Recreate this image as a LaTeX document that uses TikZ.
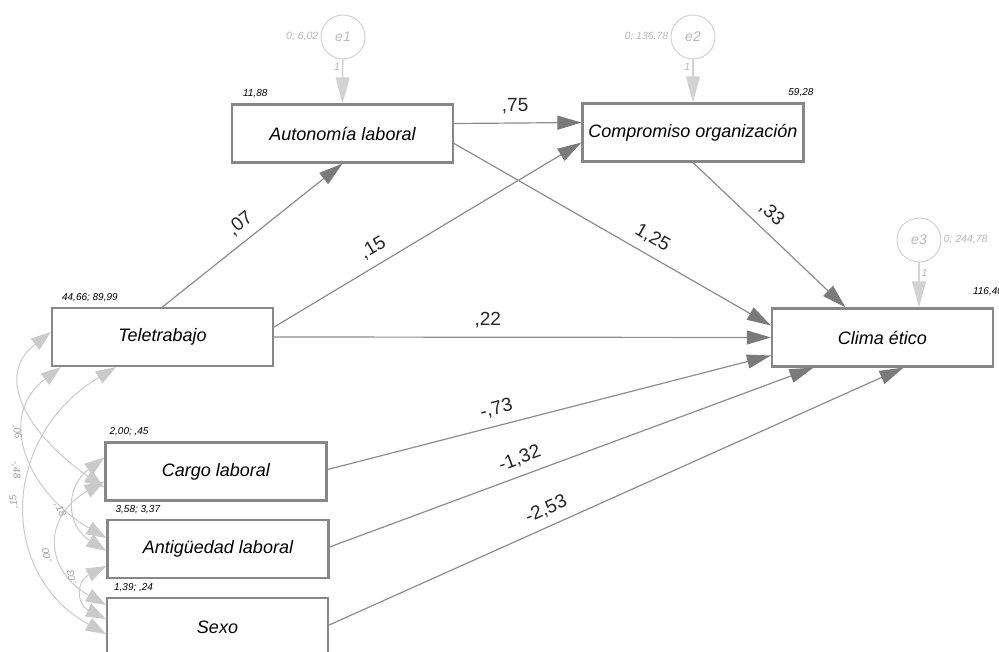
\documentclass[tikz,border=0pt]{standalone}
\usepackage{fontspec}
\setmainfont{Liberation Sans}
\usetikzlibrary{arrows.meta, calc}
\definecolor{boxgray}{HTML}{878787}
\definecolor{linegray}{HTML}{8C8C8C}
\definecolor{headgray}{HTML}{7A7A7A}
\definecolor{errgray}{HTML}{D2D2D2}
\definecolor{errtext}{HTML}{B8B8B8}
\definecolor{covgray}{HTML}{CACACA}
\definecolor{covtext}{HTML}{A0A0A0}

\begin{document}
\begin{tikzpicture}[x=1pt, y=1pt,
	varbox/.style={draw=boxgray, line width=2.2pt, fill=white, minimum width=221pt, minimum height=58pt, inner sep=0pt, font=\fontsize{18}{20}\selectfont\itshape},
	errnode/.style={circle, draw=errgray, line width=1pt, minimum size=44pt, inner sep=0pt, text=errtext, font=\fontsize{14}{16}\selectfont\itshape},
	regarrow/.style={draw=linegray, line width=1.2pt, -{Triangle[length=24pt, width=14pt, color=headgray]}},
	errarrow/.style={draw=errgray, line width=1.4pt, -{Triangle[length=26pt, width=14pt]}},
	covarrow/.style={draw=covgray, line width=1pt, {Triangle[length=20pt, width=14pt]}-{Triangle[length=20pt, width=14pt]}},
	coeflab/.style={sloped, above=5pt, font=\fontsize{19}{21}\selectfont, text=black!85},
	estlab/.style={font=\fontsize{10}{11}\selectfont\itshape, inner sep=1pt},
	errlab/.style={font=\fontsize{10.5}{12}\selectfont\itshape, text=errtext, inner sep=2pt},
	covlab/.style={font=\fontsize{10}{11}\selectfont\itshape, text=covtext, inner sep=0pt}]
		\useasboundingbox (0,0) rectangle (999,-652);
		\clip (0,0) rectangle (999,-652);
		
		\draw (342.5,-133.5) node[varbox] (auto) {Autonomía laboral}
		(693,-132.5) node[varbox] (comp) {Compromiso organización}
		(162.5,-337) node[varbox] (tele) {Teletrabajo}
		(882.5,-337.5) node[varbox] (clima) {Clima ético}
		(216,-471.5) node[varbox] (cargo) {Cargo laboral}
		(218,-549) node[varbox] (antig) {Antigüedad laboral}
		(217.5,-627) node[varbox] (sexo) {Sexo};
		
		\draw (343,-37) node[errnode] (e1) {e1}
		(693,-37) node[errnode] (e2) {e2}
		(919,-240) node[errnode] (e3) {e3};
		
		% estimates above the boxes
		\node[estlab, anchor=south west] (m1) at ([xshift=11pt,yshift=4pt]auto.north west) {11,88};
		\node[estlab, anchor=south east] (m2) at ([xshift=10pt,yshift=4pt]comp.north east) {59,28};
		\node[estlab, anchor=south east] (m3) at ([xshift=10pt,yshift=10pt]clima.north east) {116,40};
		\node[estlab, anchor=south west] (m4) at ([xshift=10pt,yshift=4pt]tele.north west) {44,66; 89,99};
		\node[estlab, anchor=south west] (m5) at ([xshift=4pt,yshift=4pt]cargo.north west) {2,00; ,45};
		\node[estlab, anchor=south west] (m6) at ([xshift=8pt,yshift=4pt]antig.north west) {3,58; 3,37};
		\node[estlab, anchor=south west] (m7) at ([xshift=7pt,yshift=4pt]sexo.north west) {1,39; ,24};
		
		\node[errlab, anchor=east] (v1) at (e1.west) {0; 6,02};
		\node[errlab, anchor=east] (v2) at (e2.west) {0; 136,78};
		\node[errlab, anchor=west] (v3) at (e3.east) {0; 244,78};
		
		\draw[errarrow] (e1) -- node[errlab, pos=.17, left] (w1) {1} (auto.north);
		\draw[errarrow] (e2) -- node[errlab, pos=.17, left] (w2) {1} (comp.north);
		\draw[errarrow] (e3) -- node[errlab, pos=.24, right] (w3) {1} ([xshift=36.5pt]clima.north);
		
		\draw[regarrow] (tele.north) -- node[coeflab, pos=.49] (b1) {,07} (auto.south);
		\draw[regarrow] ([yshift=10pt]tele.east) -- node[coeflab, pos=.35] (b2) {,15} ([yshift=-10pt]comp.west);
		\draw[regarrow] ([yshift=10pt]auto.east) -- node[coeflab, pos=.48] (b3) {,75} ([yshift=10pt]comp.west);
		\draw[regarrow] ([yshift=-10pt]auto.east) -- node[coeflab, pos=.6] (b4) {1,25} ([yshift=12pt]clima.west);
		\draw[regarrow] (comp.south) -- node[coeflab, pos=.44] (b5) {,33} ([xshift=-37pt]clima.north);
		\draw[regarrow] (tele.east) -- node[coeflab, pos=.43] (b6) {,22} (clima.west);
		\draw[regarrow] ([yshift=2pt]cargo.east) -- node[coeflab, pos=.39] (b7) {-,73} ([yshift=-18pt]clima.west);
		\draw[regarrow] ([yshift=2pt]antig.east) -- node[coeflab, pos=.405] (b8) {-1,32} ([xshift=-69pt]clima.south);
		\draw[regarrow] ([yshift=2pt]sexo.east) -- node[coeflab, pos=.39] (b9) {-2,53} ([xshift=21pt]clima.south);
		
		% covariances
		\draw[covarrow] ([yshift=5pt]tele.west) .. controls +(-62,-48) and +(-66,45) .. ([yshift=-16pt]cargo.west);
		\draw[covarrow] ([xshift=10pt]tele.south west) .. controls +(-66,-50) and +(-78,45) .. ([yshift=11pt]antig.west);
		\draw[covarrow] ([xshift=65pt]tele.south west) .. controls +(-116,-70) and +(-108,60) .. ([yshift=-7pt]sexo.west);
		\draw[covarrow] ([yshift=14pt]cargo.west) .. controls +(-40,-30) and +(-40,25) .. ([yshift=-2pt]antig.west);
		\draw[covarrow] ([yshift=-10pt]cargo.west) .. controls +(-62,-35) and +(-62,35) .. ([yshift=22pt]sexo.west);
		\draw[covarrow] ([yshift=-17pt]antig.west) .. controls +(-30,-15) and +(-30,15) .. ([yshift=8pt]sexo.west);
		
		\node[covlab, rotate=-80] (k1) at (17,-432) {,06};
		\node[covlab, rotate=-85] (k2) at (16,-470) {-,48};
		\node[covlab, rotate=95] (k3) at (14,-502) {,15};
		\node[covlab, rotate=-65] (k4) at (60,-510) {,18};
		\node[covlab, rotate=100] (k5) at (47,-555) {,00};
		\node[covlab, rotate=100] (k6) at (72,-577) {,03};
	\end{tikzpicture}
\end{document}
